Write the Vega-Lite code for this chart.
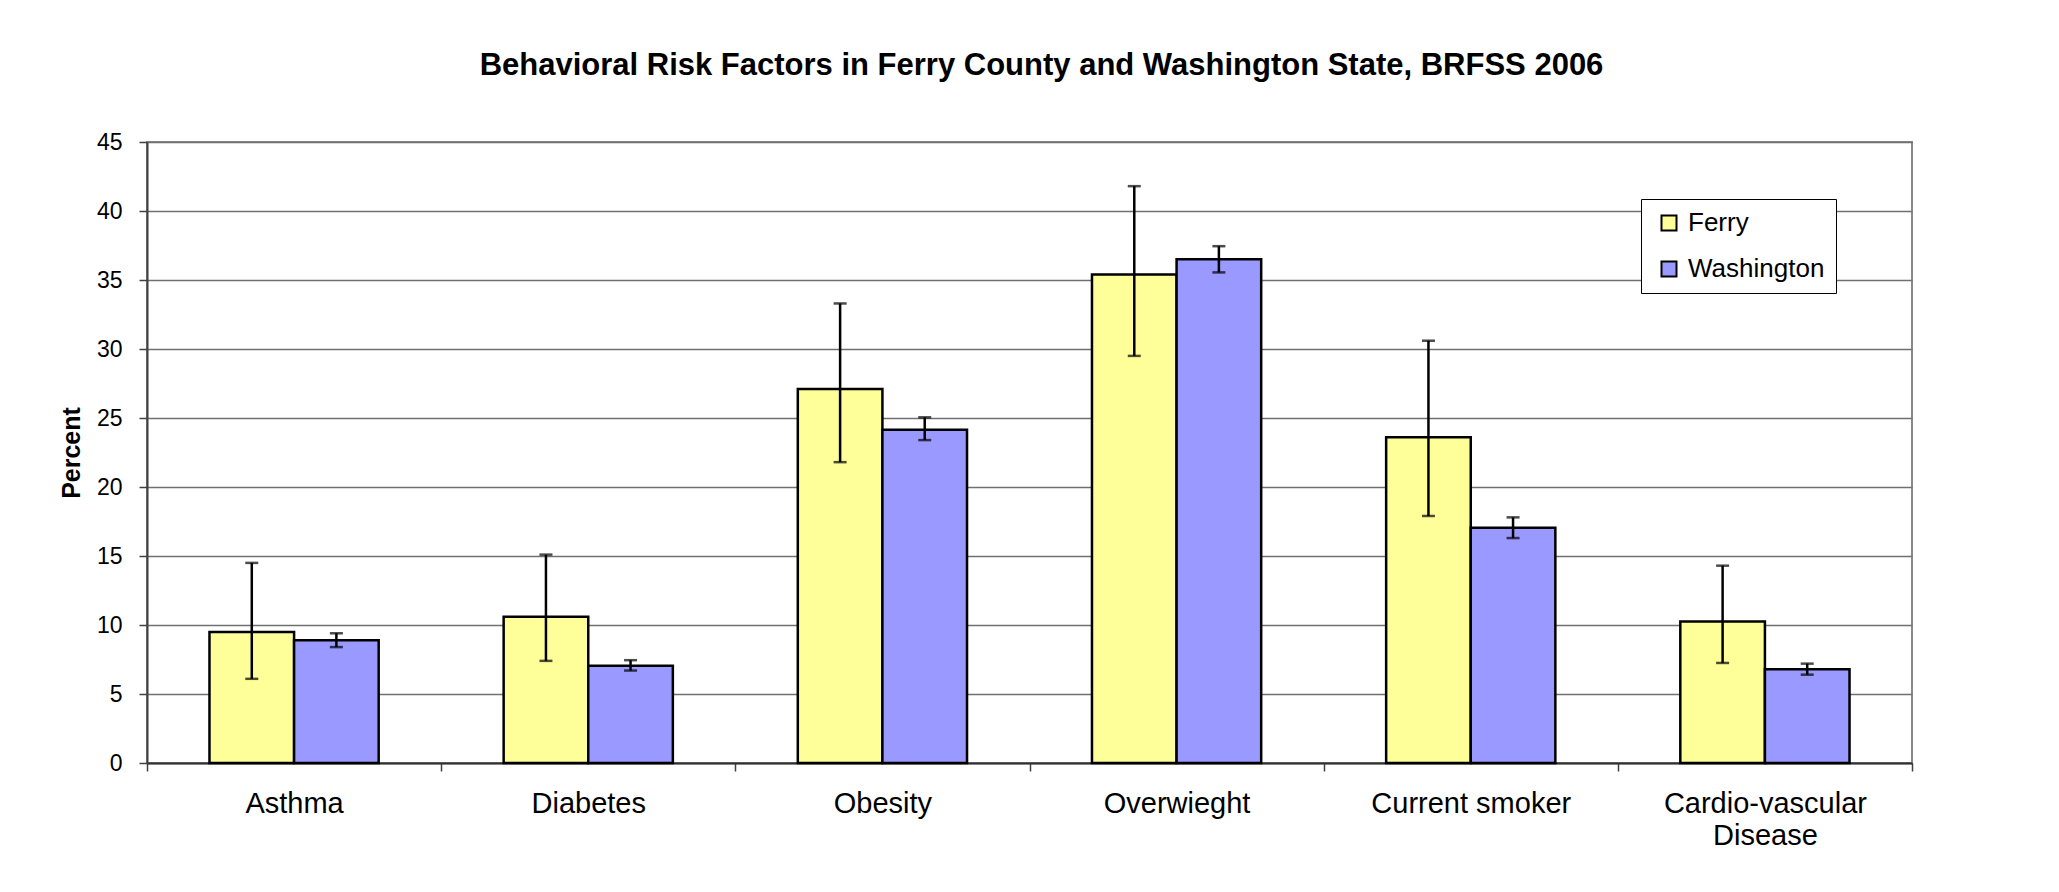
{
  "$schema": "https://vega.github.io/schema/vega-lite/v6.json",
  "autosize": {"type": "none"},
  "padding": {"left": 147, "top": 142, "right": 147, "bottom": 129},
  "width": 1765,
  "height": 621,
  "background": "white",
  "title": {
    "text": "Behavioral Risk Factors in Ferry County and Washington State, BRFSS 2006",
    "font": "Liberation Sans",
    "fontSize": 31,
    "fontWeight": "bold",
    "color": "black",
    "anchor": "middle",
    "frame": "group",
    "dx": 12,
    "baseline": "alphabetic",
    "offset": 25
  },
  "data": {
    "values": [
      {"factor": "Asthma", "area": "Ferry", "pct": 9.5, "lo": 6.1, "hi": 14.5},
      {"factor": "Asthma", "area": "Washington", "pct": 8.9, "lo": 8.4, "hi": 9.4},
      {"factor": "Diabetes", "area": "Ferry", "pct": 10.6, "lo": 7.4, "hi": 15.1},
      {"factor": "Diabetes", "area": "Washington", "pct": 7.05, "lo": 6.7, "hi": 7.45},
      {"factor": "Obesity", "area": "Ferry", "pct": 27.1, "lo": 21.8, "hi": 33.3},
      {"factor": "Obesity", "area": "Washington", "pct": 24.15, "lo": 23.4, "hi": 25.05},
      {"factor": "Overwieght", "area": "Ferry", "pct": 35.4, "lo": 29.5, "hi": 41.8},
      {"factor": "Overwieght", "area": "Washington", "pct": 36.5, "lo": 35.55, "hi": 37.45},
      {"factor": "Current smoker", "area": "Ferry", "pct": 23.6, "lo": 17.9, "hi": 30.6},
      {"factor": "Current smoker", "area": "Washington", "pct": 17.05, "lo": 16.3, "hi": 17.8},
      {"factor": "Cardio-vascular Disease", "area": "Ferry", "pct": 10.25, "lo": 7.25, "hi": 14.3},
      {"factor": "Cardio-vascular Disease", "area": "Washington", "pct": 6.8, "lo": 6.4, "hi": 7.2}
    ]
  },
  "encoding": {
    "x": {
      "field": "factor",
      "type": "nominal",
      "sort": null,
      "scale": {"paddingInner": 0, "paddingOuter": 0},
      "axis": {
        "title": null,
        "labelAngle": 0,
        "labelFont": "Liberation Sans",
        "labelFontSize": 29,
        "labelColor": "black",
        "labelPadding": 18,
        "labelLineHeight": 32,
        "labelLimit": 500,
        "labelExpr": "datum.value == 'Cardio-vascular Disease' ? ['Cardio-vascular', 'Disease'] : datum.value",
        "tickBand": "extent",
        "tickSize": 8,
        "tickColor": "#404040",
        "tickWidth": 1.5,
        "domainColor": "#303030",
        "domainWidth": 2,
        "grid": false
      }
    },
    "xOffset": {
      "field": "area",
      "type": "nominal",
      "sort": ["Ferry", "Washington"],
      "scale": {"paddingInner": 0, "paddingOuter": 0.7385}
    }
  },
  "layer": [
    {
      "mark": {"type": "bar", "stroke": "black", "strokeWidth": 2.5},
      "encoding": {
        "y": {
          "field": "pct",
          "type": "quantitative",
          "scale": {"domain": [0, 45], "nice": false},
          "axis": {
            "title": "Percent",
            "titleFont": "Liberation Sans",
            "titleFontSize": 25,
            "titleFontWeight": "bold",
            "titleColor": "black",
            "titlePadding": 12,
            "values": [0, 5, 10, 15, 20, 25, 30, 35, 40, 45],
            "labelFont": "Liberation Sans",
            "labelFontSize": 23,
            "labelColor": "black",
            "labelPadding": 17,
            "tickSize": 8,
            "tickColor": "#404040",
            "tickWidth": 1.5,
            "domainColor": "#404040",
            "domainWidth": 2,
            "grid": true,
            "gridColor": "#707070",
            "gridWidth": 1.3
          }
        },
        "color": {
          "field": "area",
          "type": "nominal",
          "scale": {"domain": ["Ferry", "Washington"], "range": ["#FFFF99", "#9999FF"]},
          "legend": {
            "title": null,
            "orient": "none",
            "legendX": 1494,
            "legendY": 57,
            "symbolType": "square",
            "symbolSize": 225,
            "symbolStrokeColor": "black",
            "symbolStrokeWidth": 2,
            "symbolOffset": 4,
            "labelFont": "Liberation Sans",
            "labelFontSize": 26,
            "labelColor": "black",
            "labelOffset": 6,
            "rowPadding": 20,
            "padding": 11,
            "strokeColor": "black",
            "fillColor": "white"
          }
        }
      }
    },
    {
      "mark": {"type": "rule", "color": "black", "strokeWidth": 2.5},
      "encoding": {
        "y": {"field": "lo", "type": "quantitative"},
        "y2": {"field": "hi"}
      }
    },
    {
      "mark": {"type": "tick", "color": "black", "thickness": 2.5, "size": 13, "orient": "horizontal"},
      "encoding": {"y": {"field": "lo", "type": "quantitative"}}
    },
    {
      "mark": {"type": "tick", "color": "black", "thickness": 2.5, "size": 13, "orient": "horizontal"},
      "encoding": {"y": {"field": "hi", "type": "quantitative"}}
    }
  ],
  "config": {
    "view": {"stroke": "#8a8a8a", "strokeWidth": 2},
    "font": "Liberation Sans"
  }
}
